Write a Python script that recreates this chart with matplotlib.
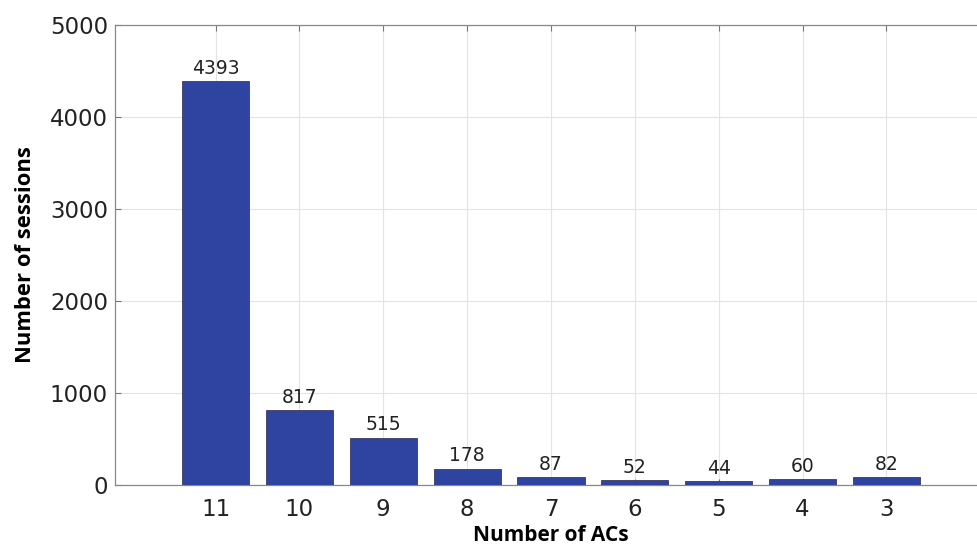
import matplotlib
matplotlib.use("Agg")
import matplotlib.pyplot as plt

# number of ACs per session and session counts
n_acs = [11, 10, 9, 8, 7, 6, 5, 4, 3]
sessions = [4393, 817, 515, 178, 87, 52, 44, 60, 82]

fig = plt.figure(figsize=(9.77, 5.46), dpi=100)
ax = fig.add_axes([115 / 977, 1 - 485 / 546, 872 / 977, 460 / 546])

bars = ax.bar(n_acs, sessions, width=0.8, color="#2f43a0",
              edgecolor="#3a3a5a", linewidth=0.6, zorder=3)
for x, v in zip(n_acs, sessions):
    ax.text(x, v + 35, str(v), ha="center", va="bottom", fontsize=13.5,
            color="#222222", family="DejaVu Sans", zorder=4)

ax.set_xlim(12.2, 1.8)
ax.set_ylim(0, 5000)
ax.set_xticks(n_acs)
ax.set_yticks([0, 1000, 2000, 3000, 4000, 5000])
ax.tick_params(axis="both", direction="in", length=4, width=0.8,
               color="#777777", labelsize=16.5, labelcolor="#222222",
               top=True, right=True, pad=5)
ax.tick_params(axis="x", pad=9)
ax.grid(True, color="#e3e3e3", linewidth=0.8, zorder=0)
for s in ax.spines.values():
    s.set_color("#888888")
    s.set_linewidth(0.9)

ax.set_ylabel("Number of sessions", fontsize=15.8, fontweight="bold",
              family="Open Sans", labelpad=10)
ax.set_xlabel("Number of ACs", fontsize=15, fontweight="bold",
              family="Open Sans", labelpad=3)

fig.savefig("out.png", dpi=100)
